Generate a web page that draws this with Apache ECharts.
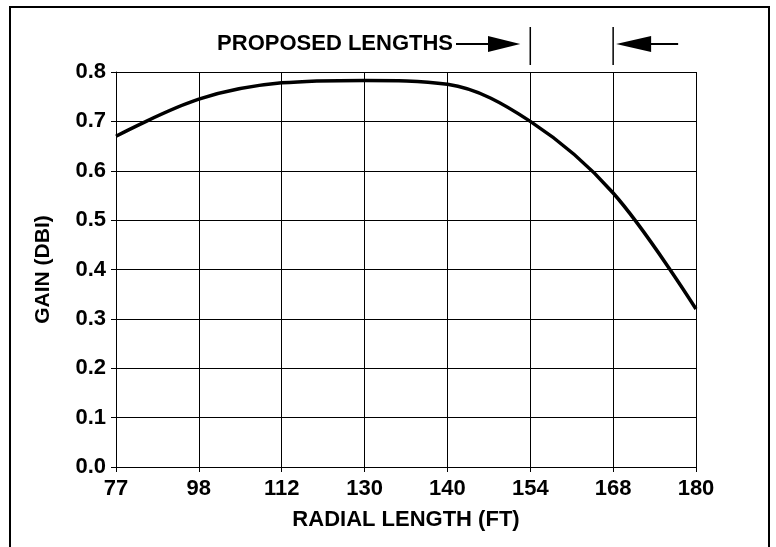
<!DOCTYPE html>
<html>
<head>
<meta charset="utf-8">
<script src="https://cdn.jsdelivr.net/npm/echarts@6/dist/echarts.min.js"></script>
<style>
  html, body { margin: 0; padding: 0; background: #fff; }
  #chart { width: 776px; height: 547px; }
</style>
</head>
<body>
<div id="chart"></div>
<script>
// radial length (ft) categories, evenly spaced on the chart
const lengths = ['77', '98', '112', '130', '140', '154', '168', '180']
// gain (dBi) at each length
const gain = [0.67, 0.745, 0.778, 0.783, 0.775, 0.70, 0.555, 0.32]
// the two proposed lengths marked above the plot
const proposed = ['154', '168']

const font = '"Liberation Sans", Arial, sans-serif'

const myChart = echarts.init(document.getElementById('chart'))

const option = {
  backgroundColor: '#fff',
  animation: false,
  grid: {
    left: 116,
    right: 80,
    top: 72,
    bottom: 80
  },
  xAxis: {
    type: 'category',
    data: lengths,
    boundaryGap: false,
    name: 'RADIAL LENGTH (FT)',
    nameLocation: 'middle',
    nameGap: 42,
    nameTextStyle: { color: '#000', fontFamily: font, fontWeight: 'bold', fontSize: 22 },
    axisLine: { lineStyle: { color: '#000', width: 1 } },
    axisTick: { show: true, length: 5, lineStyle: { color: '#000' } },
    axisLabel: { color: '#000', fontFamily: font, fontWeight: 'bold', fontSize: 22, margin: 11 },
    splitLine: { show: true, lineStyle: { color: '#000', width: 1 } }
  },
  yAxis: {
    type: 'value',
    min: 0,
    max: 0.8,
    interval: 0.1,
    name: 'GAIN (DBI)',
    nameLocation: 'middle',
    nameGap: 62,
    nameTextStyle: { color: '#000', fontFamily: font, fontWeight: 'bold', fontSize: 21 },
    axisLine: { show: true, lineStyle: { color: '#000', width: 1 } },
    axisTick: { show: true, length: 5, lineStyle: { color: '#000' } },
    axisLabel: {
      color: '#000', fontFamily: font, fontWeight: 'bold', fontSize: 22, margin: 10,
      formatter: v => v.toFixed(1)
    },
    splitLine: { show: true, lineStyle: { color: '#000', width: 1 } }
  },
  series: [
    {
      type: 'line',
      data: gain,
      smooth: 0.35,
      showSymbol: false,
      lineStyle: { color: '#000', width: 3.5 }
    }
  ]
}
myChart.setOption(option)

// annotations above the plot, placed from the axis scale
const xa = myChart.convertToPixel({ xAxisIndex: 0 }, proposed[0])
const xb = myChart.convertToPixel({ xAxisIndex: 0 }, proposed[1])
const ay = 44
myChart.setOption({
  graphic: [
    {
      type: 'rect', silent: true,
      shape: { x: 10, y: 7, width: 759, height: 560 },
      style: { fill: 'none', stroke: '#000', lineWidth: 2 }
    },
    {
      type: 'line', shape: { x1: xa, y1: 27, x2: xa, y2: 65 },
      style: { stroke: '#000', lineWidth: 1.5 }
    },
    {
      type: 'line', shape: { x1: xb, y1: 27, x2: xb, y2: 65 },
      style: { stroke: '#000', lineWidth: 1.5 }
    },
    {
      type: 'text',
      style: {
        text: 'PROPOSED LENGTHS', x: 453, y: ay, align: 'right', verticalAlign: 'middle',
        fill: '#000', font: 'bold 22px ' + font
      }
    },
    {
      type: 'line', shape: { x1: 456, y1: ay, x2: 492, y2: ay },
      style: { stroke: '#000', lineWidth: 2 }
    },
    {
      type: 'polygon', shape: { points: [[488, ay - 8], [xa - 10, ay], [488, ay + 8]] },
      style: { fill: '#000' }
    },
    {
      type: 'polygon', shape: { points: [[xb + 3, ay], [xb + 38, ay - 8], [xb + 38, ay + 8]] },
      style: { fill: '#000' }
    },
    {
      type: 'line', shape: { x1: xb + 36, y1: ay, x2: xb + 65, y2: ay },
      style: { stroke: '#000', lineWidth: 2 }
    }
  ]
})
</script>
</body>
</html>
